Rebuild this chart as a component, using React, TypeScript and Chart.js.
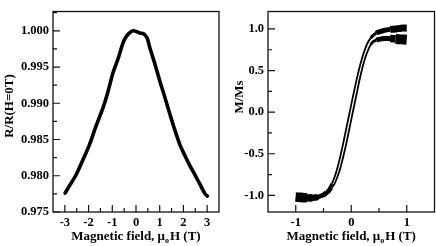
import React, { useEffect, useRef } from "react";
import { Chart, registerables } from "chart.js";
Chart.register(...registerables);

// ---------- Left panel: magnetoresistance ----------
const mrField = [-2.99, -2.81, -2.53, -2.25, -1.96, -1.68, -1.4, -1.19, -0.97, -0.76, -0.55, -0.41, -0.24, -0.1, 0.01, 0.16, 0.32, 0.47, 0.58, 0.79, 1.0, 1.21, 1.43, 1.64, 1.85, 2.06, 2.27, 2.49, 2.7, 2.91, 3.01];
const mrValue = [0.9776, 0.9786, 0.9801, 0.9821, 0.9843, 0.9869, 0.9893, 0.9915, 0.9942, 0.9961, 0.9983, 0.9992, 0.9998, 1.0, 0.9999, 0.9997, 0.9996, 0.999, 0.9977, 0.9955, 0.9931, 0.9909, 0.9885, 0.9863, 0.9843, 0.9828, 0.9814, 0.9801, 0.9788, 0.9775, 0.9772];
const mrXMajor = [-3, -2, -1, 0, 1, 2, 3];
const mrXMinor = [-2.5, -1.5, -0.5, 0.5, 1.5, 2.5];
const mrYMajor = [0.975, 0.98, 0.985, 0.99, 0.995, 1.0];
const mrYMinor = [0.9775, 0.9825, 0.9875, 0.9925, 0.9975, 1.0025];

// ---------- Right panel: magnetization loop ----------
const mhField = [-1.0, -0.9, -0.8, -0.7, -0.6, -0.5, -0.45, -0.4, -0.35, -0.3, -0.25, -0.2, -0.15, -0.1, -0.05, 0, 0.05, 0.1, 0.15, 0.2, 0.25, 0.3, 0.35, 0.4, 0.45, 0.5, 0.6, 0.7, 0.8, 0.9, 1.0];
const mhDown = [-1.02, -1.02, -1.03, -1.03, -1.02, -0.99, -0.96, -0.92, -0.86, -0.78, -0.67, -0.54, -0.39, -0.23, -0.07, 0.09, 0.25, 0.4, 0.54, 0.66, 0.76, 0.84, 0.89, 0.925, 0.95, 0.965, 0.985, 0.995, 1.0, 1.01, 1.01];
const mhUp = [-1.02, -1.03, -1.03, -1.03, -1.02, -1.0, -0.985, -0.96, -0.91, -0.86, -0.78, -0.68, -0.55, -0.41, -0.25, -0.09, 0.07, 0.23, 0.39, 0.53, 0.65, 0.74, 0.81, 0.85, 0.865, 0.875, 0.885, 0.885, 0.88, 0.875, 0.87];
const mhXMajor = [-1, 0, 1];
const mhXMinor = [-0.5, 0.5];
const mhYMajor = [-1.0, -0.5, 0.0, 0.5, 1.0];
const mhYMinor = [-0.75, -0.25, 0.25, 0.75];

const SERIF = "'Liberation Serif', 'Times New Roman', serif";

function decorPlugin(p: any) {
  return {
    id: "decor",
    afterDraw(chart: any) {
      const { ctx, chartArea: a, scales } = chart;
      const xs = scales.x;
      const ys = scales.y;
      ctx.save();
      ctx.strokeStyle = "#111";
      ctx.lineWidth = 1.3;
      ctx.strokeRect(a.left, a.top, a.right - a.left, a.bottom - a.top);
      ctx.lineWidth = 1.2;
      ctx.beginPath();
      const tx = (vals: number[], len: number) => {
        for (const v of vals) {
          const x = xs.getPixelForValue(v);
          ctx.moveTo(x, a.bottom);
          ctx.lineTo(x, a.bottom - len);
        }
      };
      const ty = (vals: number[], len: number) => {
        for (const v of vals) {
          const y = ys.getPixelForValue(v);
          if (y < a.top + 1) continue;
          ctx.moveTo(a.left, y);
          ctx.lineTo(a.left + len, y);
        }
      };
      tx(p.xMajor, 7);
      tx(p.xMinor, 4);
      ty(p.yMajor, 7);
      ty(p.yMinor, 4);
      ctx.stroke();

      // x title with subscript
      ctx.fillStyle = "#000";
      const main = `bold 13px ${SERIF}`;
      const subF = `bold 8px ${SERIF}`;
      const t1 = "Magnetic field, \u03bc";
      const ts = "o";
      const t2 = "H (T)";
      ctx.font = main;
      const w1 = ctx.measureText(t1).width;
      const w2 = ctx.measureText(t2).width;
      ctx.font = subF;
      const ws = ctx.measureText(ts).width + 1;
      const total = w1 + ws + w2;
      const x0 = (a.left + a.right) / 2 - total / 2;
      ctx.textAlign = "left";
      ctx.textBaseline = "alphabetic";
      ctx.font = main;
      ctx.fillText(t1, x0, p.xTitleY);
      ctx.font = subF;
      ctx.fillText(ts, x0 + w1, p.xTitleY + 3);
      ctx.font = main;
      ctx.fillText(t2, x0 + w1 + ws, p.xTitleY);

      // y title rotated
      ctx.save();
      ctx.translate(p.yTitleX, p.yTitleY);
      ctx.rotate(-Math.PI / 2);
      ctx.textAlign = "center";
      ctx.font = main;
      ctx.fillText(p.yTitle, 0, 0);
      ctx.restore();
      ctx.restore();
    },
  };
}

function tickFont() {
  return { family: SERIF, size: 12.5, weight: "bold" as const };
}

function makeScales(cfg: any) {
  return {
    x: {
      type: "linear",
      min: cfg.xMin,
      max: cfg.xMax,
      afterBuildTicks: (s: any) => {
        s.ticks = cfg.xMajor.map((v: number) => ({ value: v }));
      },
      afterFit: (s: any) => {
        s.height = cfg.xHeight;
      },
      grid: { display: false, drawTicks: false },
      border: { display: false },
      ticks: {
        color: "#000",
        font: tickFont(),
        padding: 3,
        maxRotation: 0,
        autoSkip: false,
        callback: (v: any) => cfg.xFmt(v),
      },
    },
    y: {
      type: "linear",
      min: cfg.yMin,
      max: cfg.yMax,
      afterBuildTicks: (s: any) => {
        s.ticks = cfg.yMajor.map((v: number) => ({ value: v }));
      },
      afterFit: (s: any) => {
        s.width = cfg.yWidth;
      },
      grid: { display: false, drawTicks: false },
      border: { display: false },
      ticks: {
        color: "#000",
        font: tickFont(),
        padding: 4,
        autoSkip: false,
        callback: (v: any) => cfg.yFmt(v),
      },
    },
  };
}

function bandWidth(x: number, upper: boolean) {
  if (x < -0.85) return 9;
  if (x < -0.7) return 7;
  if (x < -0.55) return 6;
  if (x < -0.45) return 4;
  if (x < -0.35) return 2.8;
  if (x < 0.35) return 1.8;
  if (upper) {
    if (x < 0.45) return 3;
    if (x < 0.65) return 5;
    return 7;
  }
  if (x < 0.45) return 3;
  if (x < 0.65) return 5;
  if (x < 0.85) return 7.5;
  return 10;
}

export default function App() {
  const leftRef = useRef<HTMLCanvasElement>(null);
  const rightRef = useRef<HTMLCanvasElement>(null);

  useEffect(() => {
    const left = new Chart(leftRef.current as HTMLCanvasElement, {
      type: "line",
      data: {
        datasets: [
          {
            data: mrField.map((x, i) => ({ x, y: mrValue[i] })),
            borderColor: "#000",
            borderWidth: 3.6,
            pointRadius: 0,
            tension: 0.25,
            borderJoinStyle: "round",
            borderCapStyle: "round",
            fill: false,
          },
        ],
      },
      options: {
        animation: false,
        responsive: false,
        devicePixelRatio: 1,
        layout: { padding: { top: 4, right: 3, left: 0, bottom: 0 } },
        plugins: { legend: { display: false }, tooltip: { enabled: false } },
        scales: makeScales({
          xMin: -3.5,
          xMax: 3.5,
          yMin: 0.975,
          yMax: 1.00266,
          xMajor: mrXMajor,
          yMajor: mrYMajor,
          xHeight: 34,
          yWidth: 53,
          xFmt: (v: number) => String(Math.round(v)),
          yFmt: (v: number) => Number(v).toFixed(3),
        }) as any,
      },
      plugins: [
        decorPlugin({
          xMajor: mrXMajor,
          xMinor: mrXMinor,
          yMajor: mrYMajor,
          yMinor: mrYMinor,
          xTitleY: 240,
          yTitle: "R/R(H=0T)",
          yTitleX: 13,
          yTitleY: 106,
        }),
      ],
    } as any);

    const right = new Chart(rightRef.current as HTMLCanvasElement, {
      type: "line",
      data: {
        datasets: [
          {
            data: mhField.map((x, i) => ({ x, y: mhUp[i] })),
            borderColor: "#000",
            borderWidth: 1.8,
            pointRadius: 0,
            tension: 0.3,
            borderJoinStyle: "round",
            borderCapStyle: "butt",
            fill: false,
            segment: {
              borderWidth: (c: any) => bandWidth((c.p0.parsed.x + c.p1.parsed.x) / 2, false),
            },
          },
          {
            data: mhField.map((x, i) => ({ x, y: mhDown[i] })),
            borderColor: "#000",
            borderWidth: 1.8,
            pointRadius: 0,
            tension: 0.3,
            borderJoinStyle: "round",
            borderCapStyle: "butt",
            fill: false,
            segment: {
              borderWidth: (c: any) => bandWidth((c.p0.parsed.x + c.p1.parsed.x) / 2, true),
            },
          },
        ],
      },
      options: {
        animation: false,
        responsive: false,
        devicePixelRatio: 1,
        layout: { padding: { top: 4, right: 1.5, left: 0, bottom: 0 } },
        plugins: { legend: { display: false }, tooltip: { enabled: false } },
        scales: makeScales({
          xMin: -1.5,
          xMax: 1.5,
          yMin: -1.2,
          yMax: 1.21,
          xMajor: mhXMajor,
          yMajor: mhYMajor,
          xHeight: 34,
          yWidth: 46,
          xFmt: (v: number) => String(Math.round(v)),
          yFmt: (v: number) => Number(v).toFixed(1),
        }) as any,
      },
      plugins: [
        decorPlugin({
          xMajor: mhXMajor,
          xMinor: mhXMinor,
          yMajor: mhYMajor,
          yMinor: mhYMinor,
          xTitleY: 240,
          yTitle: "M/Ms",
          yTitleX: 21,
          yTitleY: 97,
        }),
      ],
    } as any);

    return () => {
      left.destroy();
      right.destroy();
    };
  }, []);

  return (
    <div style={{ position: "fixed", left: 0, top: 0, width: 436, height: 246, background: "#fff", overflow: "hidden" }}>
      <canvas ref={leftRef} width={222} height={246} style={{ position: "absolute", left: 0, top: 0, width: 222, height: 246 }} />
      <canvas ref={rightRef} width={214} height={246} style={{ position: "absolute", left: 222, top: 0, width: 214, height: 246 }} />
    </div>
  );
}
